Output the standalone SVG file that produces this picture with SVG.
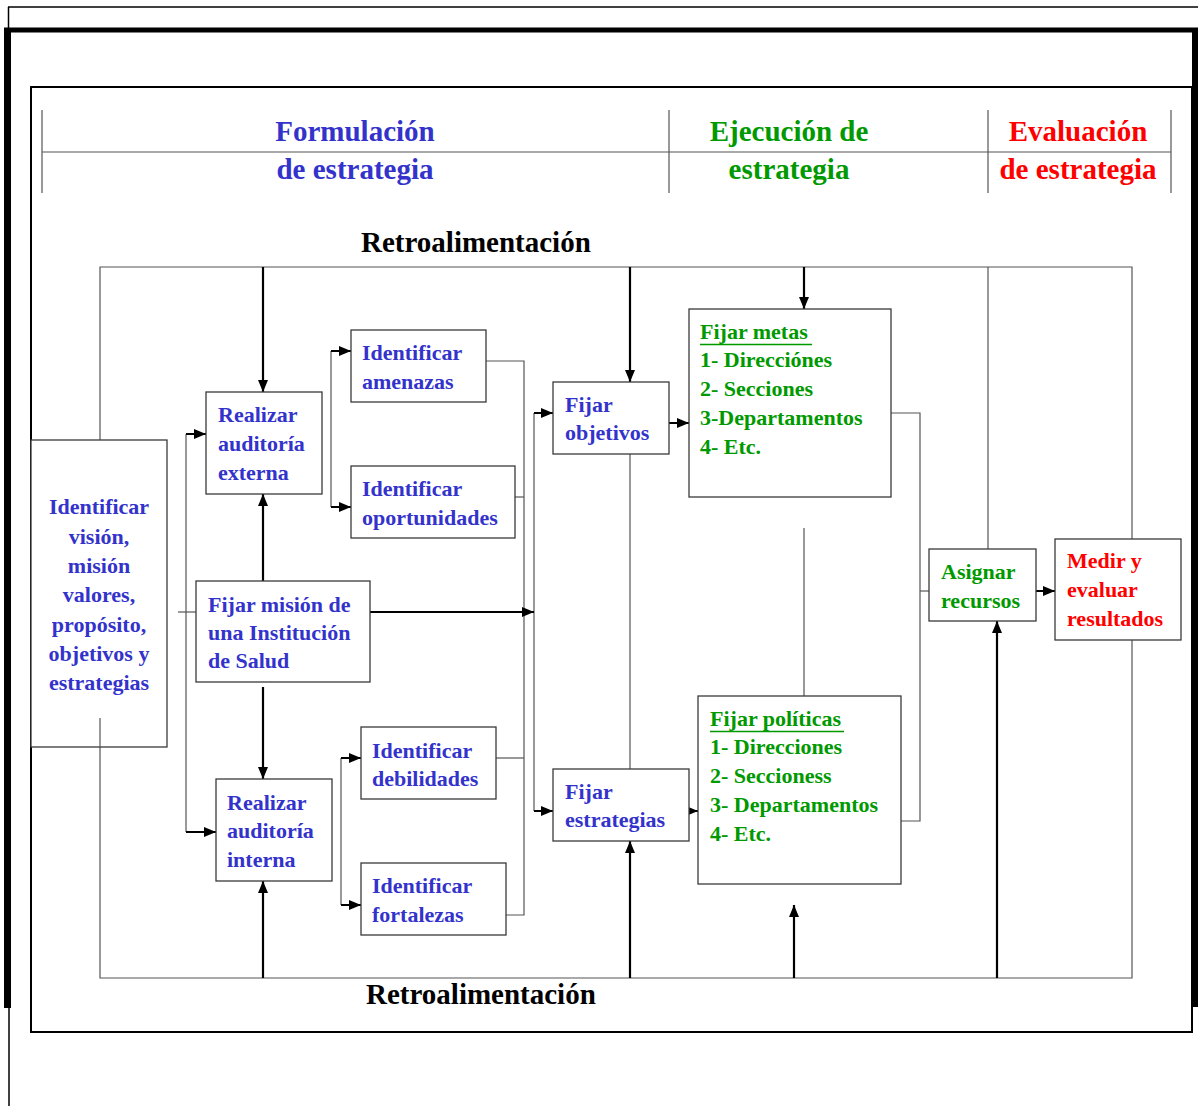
<svg xmlns="http://www.w3.org/2000/svg" width="1198" height="1106" viewBox="0 0 1198 1106">
<style>
  text { font-family: "Liberation Serif", "Times New Roman", serif; font-weight: bold; }
  .hdr { font-size: 29px; text-anchor: middle; }
  .ttl { font-size: 29px; fill: #000; }
  .b { font-size: 22px; fill: #3333CC; }
  .g { font-size: 22px; fill: #009900; }
  .r { font-size: 22px; fill: #FF0000; }
  .box { fill: #fff; stroke: #3a3a3a; stroke-width: 1.3; }
  .thin { fill: none; stroke: #555; stroke-width: 1.2; }
  .thick { fill: none; stroke: #000; stroke-width: 2.2; marker-end: url(#ah); }
  .sm { fill: none; stroke: #000; stroke-width: 2; marker-end: url(#ah); }
  .frame { fill: none; stroke: #000; }
</style>
<defs>
  <marker id="ah" viewBox="0 0 12 10" refX="12" refY="5" markerWidth="12" markerHeight="10" markerUnits="userSpaceOnUse" orient="auto">
    <path d="M0,0 L12,5 L0,10 z" fill="#000"/>
  </marker>
</defs>
<rect width="1198" height="1106" fill="#fff"/>

<g id="frames">
  <line x1="8" y1="7" x2="1198" y2="7" class="frame" stroke-width="1.5"/>
  <line x1="8.5" y1="7" x2="8.5" y2="28" class="frame" stroke-width="1.5"/>
  <line x1="4" y1="30" x2="1198" y2="30" class="frame" stroke-width="5"/>
  <line x1="7.5" y1="28" x2="7.5" y2="1008" class="frame" stroke-width="7"/>
  <line x1="1195" y1="28" x2="1195" y2="1007" class="frame" stroke-width="6"/>
  <line x1="9" y1="1008" x2="9" y2="1106" class="frame" stroke-width="1.5"/>
  <rect x="31" y="87" width="1161" height="945" class="frame" stroke-width="2"/>
</g>

<g id="header">
  <line x1="42" y1="110" x2="42" y2="193" class="thin" stroke="#333"/>
  <line x1="669" y1="110" x2="669" y2="193" class="thin" stroke="#333"/>
  <line x1="988" y1="110" x2="988" y2="193" class="thin" stroke="#333"/>
  <line x1="1171" y1="110" x2="1171" y2="193" class="thin" stroke="#333"/>
  <line x1="42" y1="152" x2="1171" y2="152" class="thin" stroke="#333"/>
  <text class="hdr" x="355" y="141" fill="#3333CC">Formulación</text>
  <text class="hdr" x="355" y="179" fill="#3333CC">de estrategia</text>
  <text class="hdr" x="789" y="141" fill="#009900">Ejecución de</text>
  <text class="hdr" x="789" y="179" fill="#009900">estrategia</text>
  <text class="hdr" x="1078" y="141" fill="#FF0000">Evaluación</text>
  <text class="hdr" x="1078" y="179" fill="#FF0000">de estrategia</text>
</g>

<g id="labels">
  <text class="ttl" x="361" y="252">Retroalimentación</text>
  <text class="ttl" x="366" y="1004">Retroalimentación</text>
</g>

<g id="connectors">
  <!-- feedback loop -->
  <polyline points="100,440 100,267 1132,267 1132,539" class="thin"/>
  <polyline points="100,718 100,978 1132,978 1132,640" class="thin"/>
  <line x1="988" y1="267" x2="988" y2="549" class="thin"/>
  <line x1="804" y1="528" x2="804" y2="696" class="thin"/>
  <line x1="630" y1="454" x2="630" y2="769" class="thin"/>
  <!-- right collector -->
  <polyline points="891,413 920,413 920,821 901,821" class="thin"/>
  <line x1="920" y1="591" x2="929" y2="591" class="thin"/>
  <!-- middle collector -->
  <polyline points="486,361 524,361 524,915 506,915" class="thin"/>
  <line x1="515" y1="497" x2="524" y2="497" class="thin"/>
  <line x1="496" y1="758" x2="524" y2="758" class="thin"/>
  <line x1="534" y1="413" x2="534" y2="811" class="thin"/>
  <!-- brackets -->
  <line x1="186" y1="434" x2="186" y2="832" class="thin"/>
  <line x1="331" y1="351" x2="331" y2="507" class="thin"/>
  <line x1="341" y1="758" x2="341" y2="905" class="thin"/>
  <line x1="178" y1="612" x2="196" y2="612" class="thin"/>

  <!-- small arrows -->
  <line x1="186" y1="434" x2="206" y2="434" class="sm"/>
  <line x1="186" y1="832" x2="216" y2="832" class="sm"/>
  <line x1="331" y1="351" x2="351" y2="351" class="sm"/>
  <line x1="331" y1="507" x2="351" y2="507" class="sm"/>
  <line x1="341" y1="758" x2="361" y2="758" class="sm"/>
  <line x1="341" y1="905" x2="361" y2="905" class="sm"/>
  <line x1="534" y1="413" x2="553" y2="413" class="sm"/>
  <line x1="534" y1="811" x2="553" y2="811" class="sm"/>
  <line x1="669" y1="423" x2="689" y2="423" class="sm"/>
  <line x1="687" y1="811" x2="698" y2="811" class="sm"/>
  <line x1="1036" y1="591" x2="1055" y2="591" class="sm"/>

  <!-- thick arrows -->
  <line x1="370" y1="612" x2="534" y2="612" class="thick"/>
  <line x1="263" y1="267" x2="263" y2="392" class="thick"/>
  <line x1="630" y1="267" x2="630" y2="382" class="thick"/>
  <line x1="804" y1="267" x2="804" y2="309" class="thick"/>
  <line x1="263" y1="581" x2="263" y2="494" class="thick"/>
  <line x1="263" y1="687" x2="263" y2="779" class="thick"/>
  <line x1="263" y1="978" x2="263" y2="881" class="thick"/>
  <line x1="630" y1="978" x2="630" y2="841" class="thick"/>
  <line x1="794" y1="978" x2="794" y2="905" class="thick"/>
  <line x1="997" y1="978" x2="997" y2="621" class="thick"/>
</g>

<g id="n-identificar">
  <rect x="31" y="440" width="136" height="307" class="box"/>
  <line x1="100" y1="718" x2="100" y2="747" class="thin"/>
  <g class="b" text-anchor="middle">
    <text x="99" y="514">Identificar</text>
    <text x="99" y="544">visión,</text>
    <text x="99" y="573">misión</text>
    <text x="99" y="602">valores,</text>
    <text x="99" y="632">propósito,</text>
    <text x="99" y="661">objetivos y</text>
    <text x="99" y="690">estrategias</text>
  </g>
</g>

<g id="n-externa">
  <rect x="206" y="392" width="116" height="102" class="box"/>
  <text class="b" x="218" y="422">Realizar</text>
  <text class="b" x="218" y="451">auditoría</text>
  <text class="b" x="218" y="480">externa</text>
</g>

<g id="n-mision">
  <rect x="196" y="581" width="174" height="101" class="box"/>
  <text class="b" x="208" y="612">Fijar misión de</text>
  <text class="b" x="208" y="640">una Institución</text>
  <text class="b" x="208" y="668">de Salud</text>
</g>

<g id="n-interna">
  <rect x="216" y="779" width="116" height="102" class="box"/>
  <text class="b" x="227" y="810">Realizar</text>
  <text class="b" x="227" y="838">auditoría</text>
  <text class="b" x="227" y="867">interna</text>
</g>

<g id="n-amenazas">
  <rect x="351" y="330" width="135" height="72" class="box"/>
  <text class="b" x="362" y="360">Identificar</text>
  <text class="b" x="362" y="389">amenazas</text>
</g>

<g id="n-oportunidades">
  <rect x="351" y="466" width="164" height="72" class="box"/>
  <text class="b" x="362" y="496">Identificar</text>
  <text class="b" x="362" y="525">oportunidades</text>
</g>

<g id="n-debilidades">
  <rect x="361" y="727" width="135" height="72" class="box"/>
  <text class="b" x="372" y="758">Identificar</text>
  <text class="b" x="372" y="786">debilidades</text>
</g>

<g id="n-fortalezas">
  <rect x="361" y="863" width="145" height="72" class="box"/>
  <text class="b" x="372" y="893">Identificar</text>
  <text class="b" x="372" y="922">fortalezas</text>
</g>

<g id="n-objetivos">
  <rect x="553" y="382" width="116" height="72" class="box"/>
  <text class="b" x="565" y="412">Fijar</text>
  <text class="b" x="565" y="440">objetivos</text>
</g>

<g id="n-estrategias">
  <rect x="553" y="769" width="136" height="72" class="box"/>
  <text class="b" x="565" y="799">Fijar</text>
  <text class="b" x="565" y="827">estrategias</text>
</g>

<g id="n-metas">
  <rect x="689" y="309" width="202" height="188" class="box"/>
  <text class="g" x="700" y="339">Fijar metas</text>
  <line x1="700" y1="344.5" x2="812" y2="344.5" stroke="#009900" stroke-width="1.3"/>
  <text class="g" x="700" y="367">1- Direcciónes</text>
  <text class="g" x="700" y="396">2- Secciones</text>
  <text class="g" x="700" y="425">3-Departamentos</text>
  <text class="g" x="700" y="454">4- Etc.</text>
</g>

<g id="n-politicas">
  <rect x="698" y="696" width="203" height="188" class="box"/>
  <text class="g" x="710" y="726">Fijar políticas</text>
  <line x1="710" y1="731.5" x2="844" y2="731.5" stroke="#009900" stroke-width="1.3"/>
  <text class="g" x="710" y="754">1- Direcciones</text>
  <text class="g" x="710" y="783">2- Seccioness</text>
  <text class="g" x="710" y="812">3- Departamentos</text>
  <text class="g" x="710" y="841">4- Etc.</text>
</g>

<g id="n-asignar">
  <rect x="929" y="549" width="107" height="72" class="box"/>
  <text class="g" x="941" y="579">Asignar</text>
  <text class="g" x="941" y="608">recursos</text>
</g>

<g id="n-medir">
  <rect x="1055" y="539" width="126" height="101" class="box"/>
  <text class="r" x="1067" y="568">Medir y</text>
  <text class="r" x="1067" y="597">evaluar</text>
  <text class="r" x="1067" y="626">resultados</text>
</g>
</svg>
